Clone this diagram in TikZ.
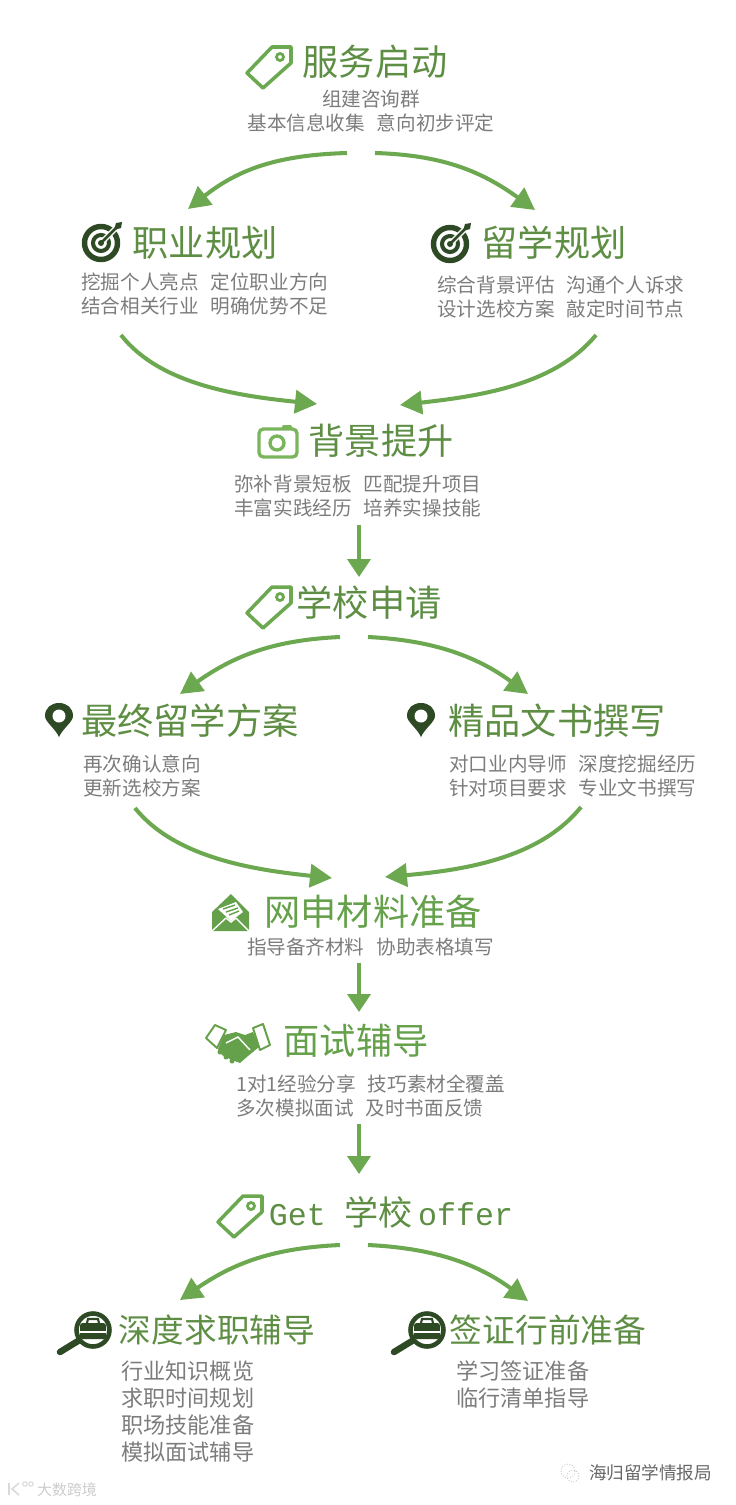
\documentclass[tikz,border=0pt]{standalone}
\usepackage{fontspec}
\usepackage{xcolor}
\usetikzlibrary{arrows.meta}
\setmainfont[WordSpace=1.35]{Noto Sans CJK SC}
\newfontfamily\latinfont{Liberation Mono}
\definecolor{headgreen}{HTML}{5E8E44}
\definecolor{brightgreen}{HTML}{65A04A}
\definecolor{arrowgreen}{HTML}{6BA84F}
\definecolor{icongreen}{HTML}{7AB55C}
\definecolor{darkgreen}{HTML}{2E4A24}
\definecolor{bodygrey}{HTML}{7C7C7C}

\tikzset{
  headtext/.style={inner sep=0pt,text=headgreen,font=\fontsize{20.6}{24}\selectfont},
  subhead/.style={inner sep=0pt,text=headgreen,font=\fontsize{18.6}{22}\selectfont},
  bodytext/.style={inner sep=0pt,align=left,text=bodygrey,font=\fontsize{11.15}{13.66}\selectfont},
  listtext/.style={inner sep=0pt,align=left,text=bodygrey,font=\fontsize{12.6}{15.4}\selectfont},
  flow/.style={line width=2.3pt,draw=arrowgreen,-{Triangle[length=0.44cm,width=0.46cm,fill=arrowgreen]}},
  flowdown/.style={line width=2.3pt,draw=arrowgreen,-{Triangle[length=0.36cm,width=0.46cm,fill=arrowgreen]}},
  tagicon/.pic={
    \draw[arrowgreen,line width=2pt,line join=round] (22,-20) -- (3,-20) -- (-22,6) -- (-6,21) -- (22,-4) -- cycle;
    \draw[arrowgreen,line width=1.6pt] (11,-10) circle (3.5);
  },
  targeticon/.pic={
    \draw[darkgreen,line width=3.1pt] (0,0) circle (16.5);
    \draw[darkgreen,line width=2.3pt] (0,0) circle (8);
    \fill[darkgreen] (0,0) circle (3);
    \draw[white,line width=3.2pt] (2,-2) -- (17,-17);
    \draw[darkgreen,line width=1.5pt] (0,0) -- (15,-15);
    \fill[darkgreen] (13,-13) -- (15,-20) -- (21,-21) -- (20,-15) -- cycle;
  },
  pinicon/.pic={
    \fill[darkgreen] (0,17) .. controls (-4,8) and (-14,2) .. (-14,-4) .. controls (-14,-12) and (-8,-17) .. (0,-17) .. controls (8,-17) and (14,-12) .. (14,-4) .. controls (14,2) and (4,8) .. (0,17) -- cycle;
    \fill[white] (0,-4) circle (6.5);
  },
  searchicon/.pic={
    \draw[darkgreen,line width=6.5*0.567pt,line cap=round] (-33,22) -- (-15,11);
    \draw[darkgreen,fill=white,line width=2.6pt] (0,0) circle (16.5);
    \fill[darkgreen,rounded corners=1.5pt] (-13,-7) rectangle (13,9);
    \draw[darkgreen,line width=1.2pt] (-6,-7) -- (-5,-11) -- (5,-11) -- (6,-7);
    \draw[white,line width=0.7pt] (-13,2) -- (13,2);
  },
}

\begin{document}
\begin{tikzpicture}[x=0.02cm,y=-0.02cm]
\useasboundingbox (0,0) rectangle (736,1505);

% service start
\pic at (269,67) {tagicon};
\node[headtext] (fuwu) at (375,62) {服务启动};
\node[bodytext,align=center] (fuwubody) at (371,111) {组建咨询群\\基本信息收集~~意向初步评定};
\coordinate (fuwuL) at (347,153);
\coordinate (fuwuR) at (375,153);

% career / study planning
\pic at (101,243) {targeticon};
\node[headtext] (zhiye) at (205,243) {职业规划};
\node[bodytext,anchor=west] (zhiyebody) at (81,294) {挖掘个人亮点~~定位职业方向\\结合相关行业~~明确优势不足};
\pic at (450,244) {targeticon};
\node[headtext] (liuxue) at (554,243) {留学规划};
\node[bodytext,anchor=west] (liuxuebody) at (437,297) {综合背景评估~~沟通个人诉求\\设计选校方案~~敲定时间节点};
\coordinate (zhiyeIn) at (188,209);
\coordinate (liuxueIn) at (535,210);
\coordinate (zhiyeOut) at (121,335);
\coordinate (liuxueOut) at (596,335);

% background
\draw[icongreen,line width=1.9pt,rounded corners=2.5pt] (259,429) rectangle (297,457);
\fill[icongreen] (281,429) -- (283,425) -- (291,425) -- (293,429) -- cycle;
\draw[icongreen,line width=1.9pt] (277,443) circle (7);
\node[headtext] (beijing) at (381,441) {背景提升};
\node[bodytext,anchor=west] (beijingbody) at (234,496) {弥补背景短板~~匹配提升项目\\丰富实践经历~~培养实操技能};
\coordinate (beijingIn1) at (317,404);
\coordinate (beijingIn2) at (400,405);
\coordinate (beijingOut) at (359,525);

% application
\pic at (269,607) {tagicon};
\node[headtext] (shenqing) at (369,603) {学校申请};
\coordinate (shenqingIn) at (359,577);
\coordinate (shenqingL) at (340,637);
\coordinate (shenqingR) at (368,637);

\pic at (59,720) {pinicon};
\node[headtext] (fangan) at (190,721) {最终留学方案};
\node[bodytext,anchor=west] (fanganbody) at (83,776) {再次确认意向\\更新选校方案};
\pic at (421,720) {pinicon};
\node[headtext] (wenshu) at (557,721) {精品文书撰写};
\node[bodytext,anchor=west] (wenshubody) at (449,776) {对口业内导师~~深度挖掘经历\\针对项目要求~~专业文书撰写};
\coordinate (fanganIn) at (180,694);
\coordinate (wenshuIn) at (528,694);
\coordinate (fanganOut) at (135,808);
\coordinate (wenshuOut) at (581,807);

% online materials
\fill[brightgreen] (212,912) -- (231,894) -- (249,912) -- (249,931) -- (212,931) -- cycle;
\fill[white] (218,909) -- (236,902) -- (243,912) -- (231,921) -- cycle;
\draw[brightgreen,line width=0.8pt] (223,909) -- (235,905) (226,912) -- (238,908) (229,915) -- (239,911);
\draw[white,line width=0.8pt] (212,931) -- (226,918) (249,931) -- (236,918) (226,918) -- (231,922) -- (236,918);
\node[headtext,text=brightgreen] (wangshen) at (373,912) {网申材料准备};
\node[bodytext] (wangshenbody) at (370.5,947) {指导备齐材料~~协助表格填写};
\coordinate (wangshenIn1) at (332,878);
\coordinate (wangshenIn2) at (385,877);
\coordinate (wangshenOut) at (359,963);

% interview
\draw[brightgreen,line width=1.1pt,line join=round] (206,1038) -- (215,1025) -- (226,1030) -- (217,1048) -- cycle;
\draw[brightgreen,line width=1.1pt,line join=round] (253,1028) -- (263,1024) -- (270,1045) -- (260,1050) -- cycle;
\fill[brightgreen] (224,1035) -- (236,1032) -- (245,1035) -- (253,1032) -- (259,1047) -- (248,1056) -- (240,1063) -- (232,1060) -- (222,1055) -- (218,1049) -- cycle;
\draw[white,line width=0.8pt] (226,1043) -- (238,1037) -- (250,1050);
\foreach \fingerx/\fingery in {220/1052,226/1057,232/1061}
  \fill[brightgreen] (\fingerx,\fingery) circle (2.5);
\node[headtext,text=brightgreen] (mianshi) at (356,1041) {面试辅导};
\node[bodytext,anchor=west] (mianshibody) at (236,1096) {1对1经验分享~~技巧素材全覆盖\\多次模拟面试~~及时书面反馈};
\coordinate (mianshiIn) at (359,1012);
\coordinate (mianshiOut) at (359,1124);
\coordinate (offerIn) at (359,1174);

% offer
\pic at (240,1216) {tagicon};
\node[inner sep=0pt,text=headgreen,font=\fontsize{19.4}{24}\selectfont] (offer) at (391,1212) {{\latinfont\fontsize{18}{24}\selectfont Get }学校\hspace{3pt}{\latinfont\fontsize{18}{24}\selectfont offer}};
\coordinate (offerL) at (340,1245);
\coordinate (offerR) at (368,1245);

% after offer
\pic at (93,1330) {searchicon};
\node[subhead] (qiuzhi) at (217,1330) {深度求职辅导};
\node[listtext,anchor=west] (qiuzhibody) at (121,1411.5) {行业知识概览\\求职时间规划\\职场技能准备\\模拟面试辅导};
\pic at (427,1330) {searchicon};
\node[subhead] (qianzheng) at (548,1330) {签证行前准备};
\node[listtext,anchor=west] (qianzhengbody) at (456,1384.5) {学习签证准备\\临行清单指导};
\coordinate (qiuzhiIn) at (180,1300);
\coordinate (qianzhengIn) at (528,1301);

% connectors
\draw[flow] (fuwuL) .. controls (280,155) and (240,168) .. (zhiyeIn);
\draw[flow] (fuwuR) .. controls (440,155) and (480,170) .. (liuxueIn);
\draw[flow] (zhiyeOut) .. controls (160,385) and (240,396) .. (beijingIn1);
\draw[flow] (liuxueOut) .. controls (555,385) and (480,396) .. (beijingIn2);
\draw[flowdown] (beijingOut) -- (shenqingIn);
\draw[flow] (shenqingL) .. controls (275,640) and (235,655) .. (fanganIn);
\draw[flow] (shenqingR) .. controls (430,640) and (475,655) .. (wenshuIn);
\draw[flow] (fanganOut) .. controls (175,858) and (255,870) .. (wangshenIn1);
\draw[flow] (wenshuOut) .. controls (540,858) and (465,870) .. (wangshenIn2);
\draw[flowdown] (wangshenOut) -- (mianshiIn);
\draw[flowdown] (mianshiOut) -- (offerIn);
\draw[flow] (offerL) .. controls (275,1248) and (235,1262) .. (qiuzhiIn);
\draw[flow] (offerR) .. controls (430,1248) and (475,1262) .. (qianzhengIn);

% marks at the foot
\draw[gray!45,line width=0.5pt,densely dotted] (568,1471) circle (7);
\draw[gray!45,line width=0.5pt,densely dotted] (573,1476) circle (6);
\node[inner sep=0pt,text=black!60,font=\fontsize{10}{12}\selectfont] (haigui) at (650.5,1473) {海归留学情报局};
\draw[gray!30,line width=0.9pt] (9,1483) -- (9,1495) (19,1483) -- (12,1489) -- (19,1495);
\draw[gray!30,line width=0.6pt] (25,1484) circle (2.2) (31,1484) circle (2.2);
\node[inner sep=0pt,text=gray!40,font=\fontsize{8.5}{10}\selectfont] (dashu) at (67,1490) {大数跨境};
\end{tikzpicture}
\end{document}
